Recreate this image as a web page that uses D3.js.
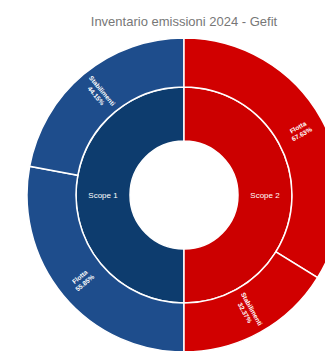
<!DOCTYPE html>
<html>
<head>
<meta charset="utf-8">
<script src="https://cdn.jsdelivr.net/npm/d3@7"></script>
<style>
  body { margin: 0; background: #fff; }
  svg { display: block; font-family: "Liberation Sans", Arial, sans-serif; }
</style>
</head>
<body>
<div class="chart"></div>
<script>
  // scopes and their share of the inventory
  var scopes = ["Scope 1", "Scope 2"];
  var scopeValues = [50, 50];
  // sub categories inside each scope, percentages of their scope
  var subNames = ["Flotta", "Stabilimenti"];
  var subPct = {
    "Scope 1": [55.85, 44.15],
    "Scope 2": [67.63, 32.37]
  };
  var title = "Inventario emissioni 2024 - Gefit";

  var innerColors = {"Scope 1": "#0d3c6e", "Scope 2": "#cc0000"};
  var outerColors = {"Scope 1": "#1e4d8c", "Scope 2": "#d10000"};

  var width = 325, height = 351;
  var cx = 184, cy = 195;

  var svg = d3.select(".chart")
          .append("svg")
          .attr("width", width)
          .attr("height", height);

  svg.append("text")
          .attr("x", cx)
          .attr("y", 26)
          .attr("text-anchor", "middle")
          .style("font-size", "13px")
          .style("fill", "#777")
          .text(title);

  var data = {
    name: "root",
    children: scopes.map(function(s, i) {
      return {
        name: s,
        children: subNames.map(function(n, j) {
          return {name: n, pct: subPct[s][j], value: scopeValues[i] * subPct[s][j] / 100};
        })
      };
    })
  };

  var root = d3.hierarchy(data).sum(function(d) { return d.children ? 0 : d.value; });
  d3.partition().size([2 * Math.PI, 3])(root);

  // left half starts with Scope 1
  var angle = d3.scaleLinear().domain([0, 2 * Math.PI]).range([Math.PI, 3 * Math.PI]);
  var radius = d3.scaleLinear().domain([1, 2, 3]).range([54, 108, 157]);

  var arc = d3.arc()
          .startAngle(function(d) { return angle(d.x0); })
          .endAngle(function(d) { return angle(d.x1); })
          .innerRadius(function(d) { return radius(d.y0); })
          .outerRadius(function(d) { return radius(d.y1); });

  var g = svg.append("g")
          .attr("transform", "translate(" + cx + "," + cy + ")");

  var nodes = root.descendants().filter(function(d) { return d.depth > 0; });

  g.selectAll("path")
          .data(nodes)
          .enter()
          .append("path")
          .attr("d", arc)
          .style("fill", function(d) {
            return d.depth == 1 ? innerColors[d.data.name] : outerColors[d.parent.data.name];
          })
          .style("stroke", "#fff")
          .style("stroke-width", 1.5);

  // scope labels, horizontal
  g.selectAll(".scope")
          .data(root.children)
          .enter()
          .append("text")
          .attr("class", "scope")
          .attr("transform", function(d) {
            var c = arc.centroid(d);
            return "translate(" + c[0] + "," + c[1] + ")";
          })
          .attr("dy", "0.35em")
          .attr("text-anchor", "middle")
          .style("font-size", "8px")
          .style("fill", "#fff")
          .text(function(d) { return d.data.name; });

  // leaf labels, radial
  var leaf = g.selectAll(".leaf")
          .data(root.leaves())
          .enter()
          .append("text")
          .attr("class", "leaf")
          .attr("transform", function(d) {
            var a = (angle((d.x0 + d.x1) / 2)) * 180 / Math.PI % 360;
            var r = (radius(d.y0) + radius(d.y1)) / 2;
            return "rotate(" + (a - 90) + ") translate(" + r + ",0) rotate(" + (a < 180 ? 0 : 180) + ")";
          })
          .attr("text-anchor", "middle")
          .style("font-size", "6.5px")
          .style("font-weight", "bold")
          .style("fill", "#fff");

  leaf.append("tspan")
          .attr("x", 0)
          .attr("dy", "-0.2em")
          .text(function(d) { return d.data.name; });

  leaf.append("tspan")
          .attr("x", 0)
          .attr("dy", "1.2em")
          .text(function(d) { return d.data.pct.toFixed(2) + "%"; });
</script>
</body>
</html>
